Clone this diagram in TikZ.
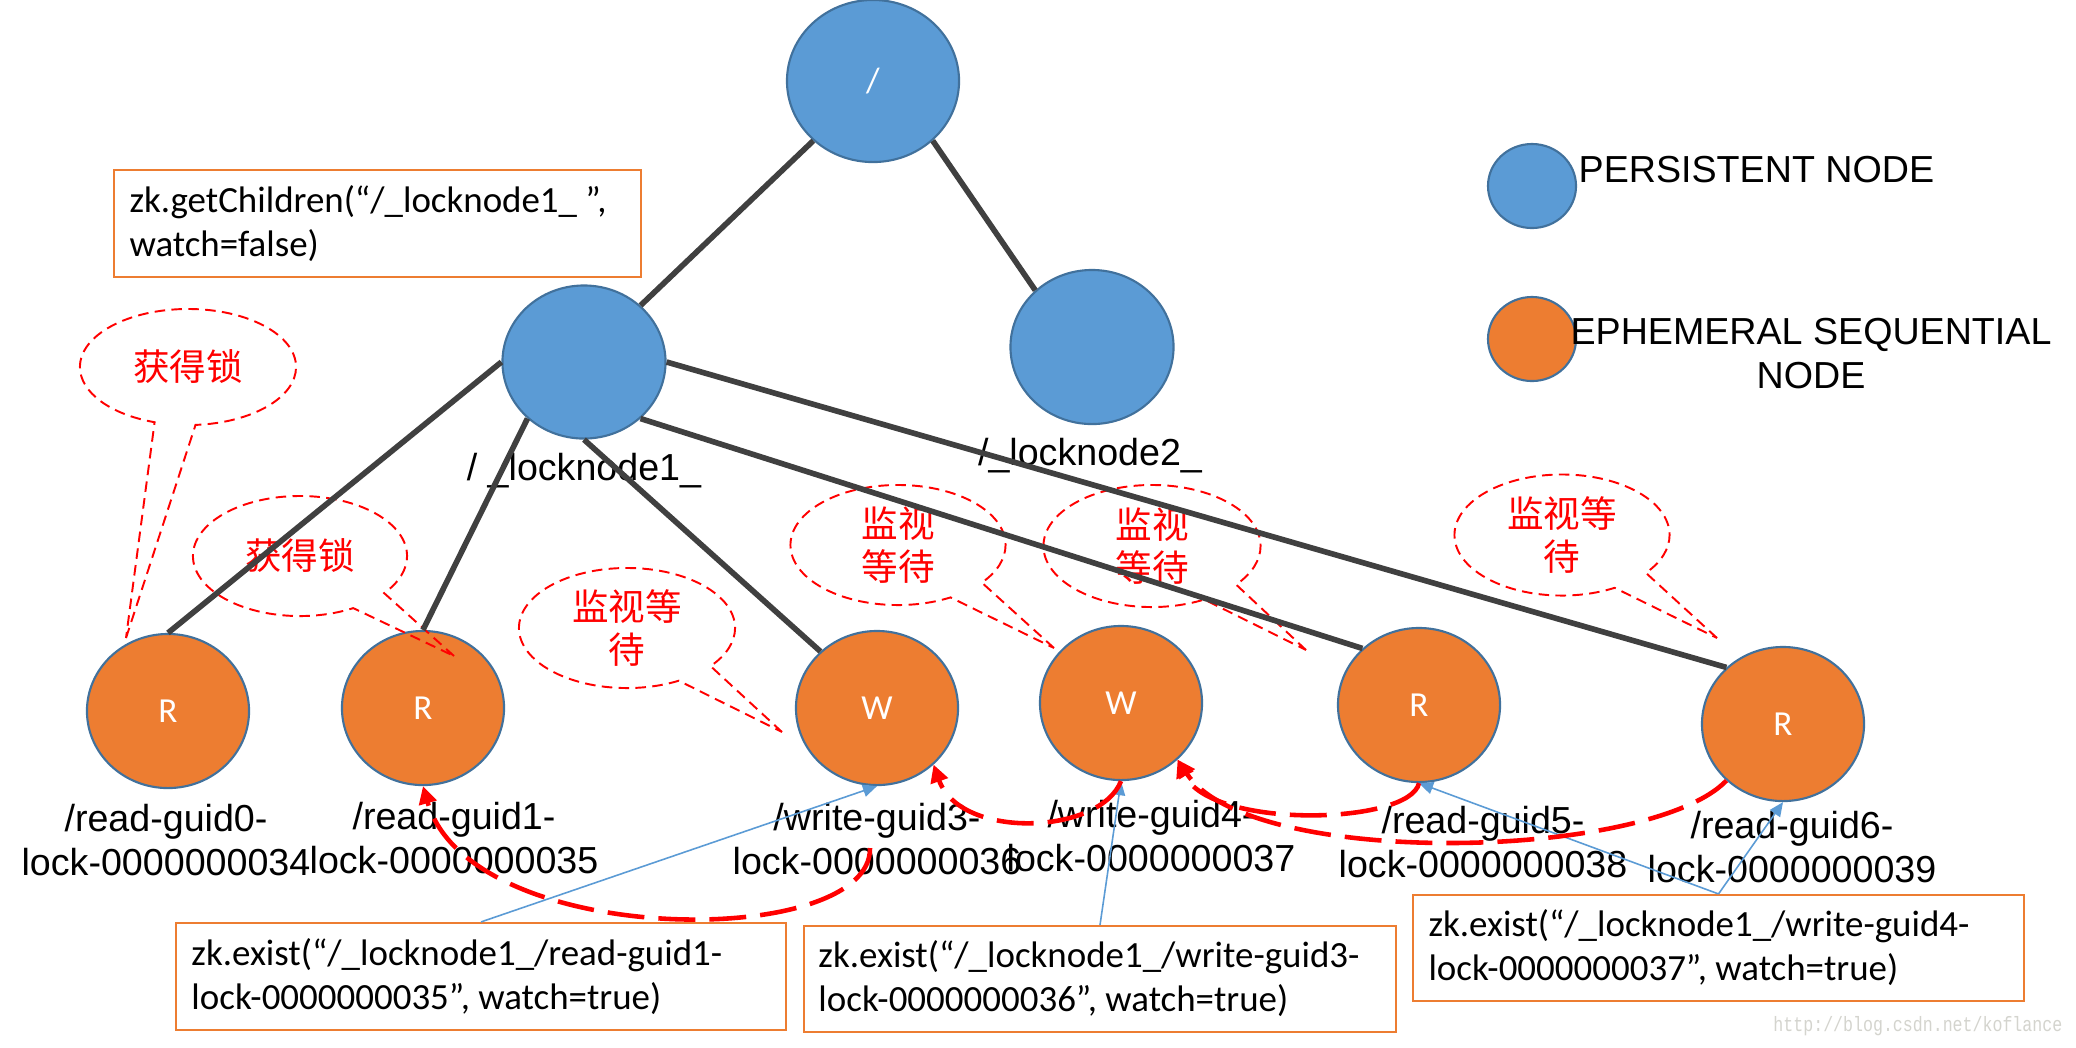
\documentclass[tikz,border=0pt]{standalone}
\usepackage{fontspec}
\setmainfont{Liberation Sans}
\newfontfamily\calib{Carlito}
\newfontfamily\cjk{Noto Sans CJK SC}
\newfontfamily\wmfont[FakeStretch=0.8]{Liberation Mono}
\usetikzlibrary{shapes.geometric,shapes.callouts,arrows.meta}
\definecolor{pblue}{HTML}{5B9BD5}
\definecolor{bord}{HTML}{41719C}
\definecolor{eorange}{HTML}{ED7D31}
\definecolor{edgec}{HTML}{404040}
\definecolor{wmgray}{RGB}{212,212,206}
\tikzset{
  pnode/.style={ellipse, fill=pblue, draw=bord, line width=0.6pt, text=white,
    font=\calib\fontsize{10}{12}\selectfont, inner sep=0pt},
  enode/.style={pnode, fill=eorange, minimum width=1.62cm, minimum height=1.54cm},
  treeline/.style={draw=edgec, line width=1.6pt},
  lbl/.style={font=\fontsize{10.7}{12.5}\selectfont, align=center, inner sep=0pt},
  bubble/.style={ellipse callout, draw=red, line width=0.55pt, dash pattern=on 3pt off 1.8pt,
    text=red, font=\cjk\fontsize{10.4}{12.3}\selectfont, align=center, inner sep=0pt,
    callout pointer arc=22},
  codebox/.style={draw=eorange, line width=0.6pt, inner sep=0pt},
  codetext/.style={font=\calib\fontsize{10.5}{12.5}\selectfont, align=left, inner sep=0pt, anchor=west},
  bluearr/.style={draw=pblue, line width=0.45pt, -{Triangle[length=4pt,width=3.5pt]}},
  redarr/.style={draw=red, line width=1.3pt, dash pattern=on 10.5pt off 4pt,
    -{Triangle[length=5pt,width=5pt]}}
}
\begin{document}
\begin{tikzpicture}[x=0.01cm,y=-0.01cm]
\fill[white] (0,0) rectangle (2076,1047);
\useasboundingbox (0,0) rectangle (2076,1047);

% tree nodes
\node[pnode, minimum width=1.72cm, minimum height=1.62cm] (root) at (873,81) {/};
\node[pnode, minimum width=1.63cm, minimum height=1.53cm] (l1) at (584,362) {};
\node[pnode, minimum width=1.63cm, minimum height=1.54cm] (l2) at (1092,347) {};
\node[enode] (r0) at (168,711) {R};
\node[enode] (r1) at (423,708) {R};
\node[enode] (w3) at (877,708) {W};
\node[enode] (w4) at (1121,703) {W};
\node[enode] (r5) at (1419,705) {R};
\node[enode] (r6) at (1783,724) {R};

% legend
\node[pnode, minimum width=0.88cm, minimum height=0.84cm] (lgp) at (1532,186) {};
\node[pnode, fill=eorange, minimum width=0.88cm, minimum height=0.84cm] (lge) at (1532,339) {};
\node[lbl, anchor=west] (tp) at (1578,169.5) {PERSISTENT NODE};
\node[lbl] (te) at (1811,354) {EPHEMERAL SEQUENTIAL\\NODE};

% labels
\node[lbl] (ll1) at (584,471) {/ \_locknode1\_};
\node[lbl] (ll2) at (1090,456) {/\_locknode2\_};
\node[lbl] (lr0) at (166,840) {/read-guid0-\\lock-0000000034};
\node[lbl] (lr1) at (454,838) {/read-guid1-\\lock-0000000035};
\node[lbl] (lw3) at (877,839) {/write-guid3-\\lock-0000000036};
\node[lbl] (lw4) at (1151,836) {/write-guid4-\\lock-0000000037};
\node[lbl] (lr5) at (1483,842) {/read-guid5-\\lock-0000000038};
\node[lbl] (lr6) at (1792,847) {/read-guid6-\\lock-0000000039};

% bubbles
\node[bubble, minimum width=2.16cm, minimum height=1.16cm, callout absolute pointer={(126,638)}] (bb1) at (188,367) {获得锁};
\node[bubble, minimum width=2.14cm, minimum height=1.20cm, callout absolute pointer={(454,656)}] (bb2) at (300,556) {获得锁};
\node[bubble, minimum width=2.16cm, minimum height=1.20cm, callout absolute pointer={(782,732)}] (bb3) at (627,628) {监视等\\待};
\node[bubble, minimum width=2.15cm, minimum height=1.20cm, callout absolute pointer={(1054,648)}] (bb4) at (898,545) {监视\\等待};
\node[bubble, minimum width=2.17cm, minimum height=1.22cm, callout absolute pointer={(1306,650)}] (bb5) at (1152,546) {监视\\等待};
\node[bubble, minimum width=2.15cm, minimum height=1.21cm, callout absolute pointer={(1717,638)}] (bb6) at (1562,535) {监视等\\待};

% code boxes
\node[codebox, minimum width=5.27cm, minimum height=1.07cm] (bg) at (377.5,223.5) {};
\node[codetext] (tg) at ([xshift=0.16cm]bg.west) {zk.getChildren(“/\_locknode1\_ ”,\\watch=false)};
\node[codebox, minimum width=6.10cm, minimum height=1.07cm] (k1) at (481,976.5) {};
\node[codetext] (tk1) at ([xshift=0.16cm]k1.west) {zk.exist(“/\_locknode1\_/read-guid1-\\lock-0000000035”, watch=true)};
\node[codebox, minimum width=5.92cm, minimum height=1.06cm] (k2) at (1100,979) {};
\node[codetext] (tk2) at ([xshift=0.15cm]k2.west) {zk.exist(“/\_locknode1\_/write-guid3-\\lock-0000000036”, watch=true)};
\node[codebox, minimum width=6.11cm, minimum height=1.06cm] (k3) at (1718.5,948) {};
\node[codetext] (tk3) at ([xshift=0.16cm]k3.west) {zk.exist(“/\_locknode1\_/write-guid4-\\lock-0000000037”, watch=true)};

% watermark
\node[text=wmgray, font=\wmfont\fontsize{5.9}{7}\selectfont, anchor=east, inner sep=0pt] (wm) at (2063,1026) {http://blog.csdn.net/koflance};

% tree edges
\draw[treeline] (root.225) -- (l1.45);
\draw[treeline] (root.-45) -- (l2.135);
\draw[treeline] (l1.west) -- (r0.north);
\draw[treeline] (l1.225) -- (r1.north);
\draw[treeline] (l1.south) -- (w3.135);
\draw[treeline] (l1.-45) -- (r5.135);
\draw[treeline] (l1.east) -- (r6.135);

% blue watch arrows
\draw[bluearr] (k1.north) -- (w3.south);
\draw[bluearr] (k2.north) -- (w4.south);
\draw[bluearr] (k3.north) -- (r5.south);
\draw[bluearr] (k3.north) -- (r6.south);

% red waiting curves
\coordinate (c1s) at (870,848);
\draw[redarr] (c1s) .. controls (872,950) and (470,950) .. (r1.south);
\draw[redarr] (w4.south) .. controls (1100,835) and (960,840) .. (w3.-45);
\draw[redarr] (r5.south) .. controls (1410,825) and (1210,830) .. (w4.-45);
\draw[redarr] (r6.225) .. controls (1650,860) and (1250,870) .. (w4.-45);
\end{tikzpicture}
\end{document}
